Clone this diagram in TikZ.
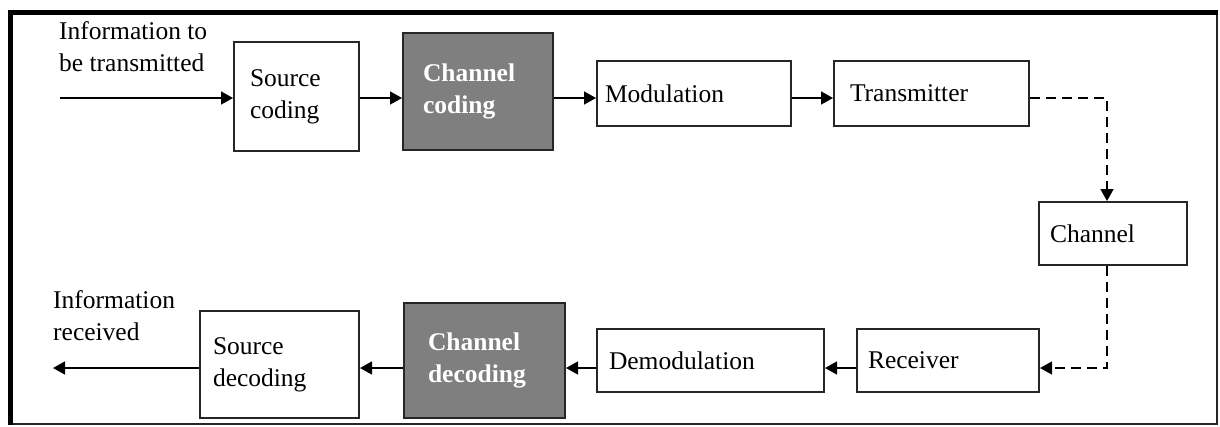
\documentclass[tikz,border=0pt]{standalone}
\usepackage{fontspec}
\setmainfont{Liberation Serif}
\usetikzlibrary{arrows.meta}
\definecolor{boxgray}{HTML}{7F7F7F}
\definecolor{edge}{HTML}{262626}
\begin{document}
\begin{tikzpicture}[x=1pt,y=-1pt,
  lbl/.style={font=\fontsize{25.5}{32}\selectfont, inner sep=0pt},
  blk/.style={draw=edge, line width=2pt, rectangle, align=left,
              inner ysep=0pt, font=\fontsize{25.5}{32}\selectfont},
  dark/.style={blk, fill=boxgray, text=white,
               font=\fontsize{25.5}{32}\selectfont\bfseries},
  arr/.style={line width=1.6pt, -{Triangle[length=12pt,width=13pt]}},
  darr/.style={arr, dash pattern=on 10pt off 6pt},
]
\useasboundingbox (0,0) rectangle (1220,426);

% outer frame: heavy top and left rules, light right and bottom
\draw[line width=2pt, edge] (10,12.5) rectangle (1217,424);
\draw[line width=5pt] (7.5,12.5) -- (1218,12.5);
\draw[line width=5pt] (10,10) -- (10,425);

% transmit chain
\node[blk, minimum width=125pt, minimum height=109pt, text width=93pt, inner xsep=16pt]
  (src) at (296.5,96.5) {Source\\coding};
\node[dark, minimum width=150pt, minimum height=117pt, text width=110pt, inner xsep=20pt]
  (chc) at (478,91.5) {Channel\\coding};
\node[blk, minimum width=194pt, minimum height=65pt, text width=178pt, inner xsep=8pt]
  (mod) at (694,93.5) {Modulation};
\node[blk, minimum width=195pt, minimum height=65pt, text width=163pt, inner xsep=16pt]
  (tx) at (931.5,93.5) {Transmitter};

% channel
\node[blk, minimum width=148pt, minimum height=63pt, text width=126pt, inner xsep=11pt]
  (ch) at (1113,233.5) {Channel};

% receive chain
\node[blk, minimum width=182pt, minimum height=63pt, text width=160pt, inner xsep=11pt]
  (rx) at (948,360.5) {Receiver};
\node[blk, minimum width=227pt, minimum height=63pt, text width=203pt, inner xsep=12pt]
  (dem) at (710.5,360.5) {Demodulation};
\node[dark, minimum width=161pt, minimum height=115pt, text width=113pt, inner xsep=24pt]
  (chd) at (484.5,360.5) {Channel\\decoding};
\node[blk, minimum width=159pt, minimum height=107pt, text width=133pt, inner xsep=13pt]
  (srd) at (279.5,364.5) {Source\\decoding};

% free labels
\node[lbl, anchor=north west, align=left] (infin) at (59,16.6)
  {\strut Information to\\be transmitted};
\node[lbl, anchor=north west, align=left] (infout) at (53,285.6)
  {\strut Information\\received};

% routing points
\coordinate (inp) at (60,98);
\coordinate (ytop) at (0,98);
\coordinate (ybot) at (0,368);
\coordinate (outp) at (53,368);
\coordinate (c1) at (1107,98);
\coordinate (c2) at (1107,368);

% connectors
\draw[arr] (inp) -- (src.west |- inp);
\draw[arr] (src.east |- ytop) -- (chc.west |- ytop);
\draw[arr] (chc.east |- ytop) -- (mod.west |- ytop);
\draw[arr] (mod.east |- ytop) -- (tx.west |- ytop);
\draw[darr] (tx.east |- ytop) -- (c1) -- (ch.north -| c1);
\draw[darr] (ch.south -| c2) -- (c2) -- (rx.east |- c2);
\draw[arr] (rx.west |- ybot) -- (dem.east |- ybot);
\draw[arr] (dem.west |- ybot) -- (chd.east |- ybot);
\draw[arr] (chd.west |- ybot) -- (srd.east |- ybot);
\draw[arr] (srd.west |- ybot) -- (outp);
\end{tikzpicture}
\end{document}
